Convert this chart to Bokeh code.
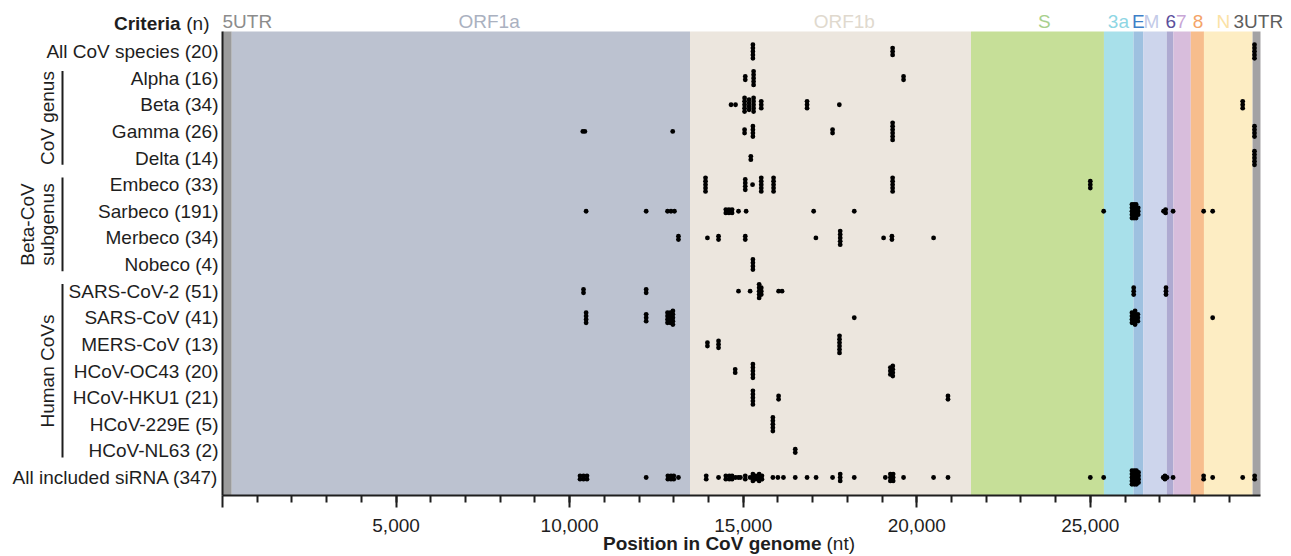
import numpy as np
from bokeh.plotting import figure
from bokeh.models import Range1d, FixedTicker, Label, BoxAnnotation, NumeralTickFormatter
from bokeh.embed import file_html
from bokeh.resources import INLINE

FONT = "Liberation Sans"
FS = "19px"
INK = "#1e1e1e"

# ---------------- data ----------------
row_labels = [
    "All CoV species (20)", "Alpha (16)", "Beta (34)", "Gamma (26)", "Delta (14)",
    "Embeco (33)", "Sarbeco (191)", "Merbeco (34)", "Nobeco (4)",
    "SARS-CoV-2 (51)", "SARS-CoV (41)", "MERS-CoV (13)", "HCoV-OC43 (20)",
    "HCoV-HKU1 (21)", "HCoV-229E (5)", "HCoV-NL63 (2)", "All included siRNA (347)",
]

group_names = [["CoV genus"], ["Beta-CoV", "subgenus"], ["Human CoVs"]]
group_first = [1, 5, 9]
group_last = [4, 8, 15]

region_names = ["5UTR", "ORF1a", "ORF1b", "S", "3a", "E", "M", "6", "7", "8", "N", "3UTR"]
region_starts = [0, 266, 13468, 21563, 25393, 26245, 26523, 27202, 27394, 27894, 28274, 29675]
genome_length = 29903
region_fill = ["#9b9b9b", "#bcc2d0", "#ece6de", "#c6df98", "#a8e0ea", "#9ec1e0",
               "#cdd5ec", "#aeaad1", "#d8bddc", "#f7bd8d", "#fdedc3", "#a3a2a4"]
region_text_color = ["#8c8c8c", "#aab1c0", "#e0d9ce", "#a8d08d", "#8ed6e4", "#3f80c8",
                     "#c3cae8", "#5b4f9c", "#c8a6d6", "#f4a468", "#fbe2a6", "#5e5e5e"]

# siRNA target sites per row: position (nt) and number of siRNAs at that site
site_pos = [
    [15280, 19305, 29730],
    [15060, 15300, 19620],
    [14650, 14780, 15040, 15170, 15300, 15520, 16840, 17770, 29390],
    [10380, 10440, 12970, 15040, 15280, 17575, 19305, 29730],
    [15220, 29730],
    [13915, 15060, 15270, 15520, 15875, 19305, 25000],
    [10475, 12205, 12820, 12920, 13020, 14500, 14590, 14680, 14865, 15085, 17030, 18200,
     25385, 26200, 26260, 26320, 26380, 27110, 27170, 27385, 28265, 28525],
    [13135, 13970, 14290, 15060, 17095, 17795, 19045, 19285, 20485],
    [15280],
    [10400, 12205, 14865, 15200, 15460, 15520, 16020, 16120, 26250, 27180],
    [10475, 12205, 12820, 12900, 12975, 18200, 26200, 26290, 26370, 28525],
    [13970, 14290, 17775],
    [14770, 15280, 19240, 19310],
    [15280, 16020, 20900],
    [15855],
    [16500],
    [10300, 10400, 10500, 12205, 12830, 12920, 13000, 13135, 13935, 14290, 14500, 14600,
     14680, 14780, 14860, 14920, 15060, 15200, 15280, 15360, 15460, 15540, 15855, 16000,
     16160, 16500, 16840, 17100, 17575, 17795, 18200, 19095, 19240, 19320, 19620, 20485,
     20900, 25000, 25385, 26200, 26270, 26330, 26390, 27100, 27150, 27210, 27385, 28265,
     28525, 29390, 29735],
]
site_n = [
    [5, 3, 5],
    [2, 5, 2],
    [1, 1, 5, 4, 5, 3, 3, 1, 3],
    [1, 1, 1, 2, 4, 2, 6, 4],
    [2, 5],
    [5, 4, 1, 5, 5, 5, 3],
    [1, 1, 1, 1, 1, 2, 2, 2, 1, 1, 1, 1, 1, 5, 5, 5, 3, 1, 2, 1, 1, 1],
    [2, 1, 2, 2, 1, 5, 1, 2, 1],
    [4],
    [2, 2, 1, 1, 5, 3, 1, 1, 3, 3],
    [4, 3, 4, 4, 5, 1, 4, 5, 3, 1],
    [2, 3, 6],
    [2, 5, 3, 4],
    [5, 2, 2],
    [5],
    [2],
    [2, 2, 2, 1, 2, 2, 2, 1, 2, 1, 2, 2, 2, 1, 1, 1, 2, 1, 3, 2, 3, 2, 1, 1, 1, 1, 1, 1, 1,
     3, 1, 1, 3, 3, 1, 1, 1, 1, 1, 5, 5, 5, 4, 1, 2, 1, 1, 2, 1, 1, 2],
]

major_ticks = [0, 5000, 10000, 15000, 20000, 25000]
minor_ticks = list(range(1000, 30000, 1000))

# ---------------- layout (canvas pixels) ----------------
W, H = 1291, 556
PLOT_L, PLOT_R = 222, 1260      # genome 0 .. genome_length
ROW0_Y, ROW_STEP = 51, 26.625   # pixel centre of first row, row spacing
PLOT_T, PLOT_B = 31, 495
K = genome_length / (PLOT_R - PLOT_L)
STACK = 0.128                   # vertical spacing of stacked siRNAs (rows)


def px_x(px):
    return (px - PLOT_L) * K


def px_y(py):
    return (py - ROW0_Y) / ROW_STEP


p = figure(width=W, height=H,
           x_range=Range1d(px_x(0), px_x(W)), y_range=Range1d(px_y(H), px_y(0)),
           min_border=0, min_border_left=0, min_border_right=0, min_border_top=0,
           min_border_bottom=0, output_backend="svg", toolbar_location=None,
           background_fill_color="white", border_fill_color="white")
p.outline_line_color = None
p.grid.visible = False

Y_TOP, Y_BOTTOM = px_y(PLOT_T), px_y(PLOT_B)

# genome regions
region_ends = region_starts[1:] + [genome_length]
p.quad(left=region_starts, right=region_ends, bottom=Y_BOTTOM, top=Y_TOP,
       fill_color=region_fill, line_color=None)

# dots
xs, ys = [], []
for r, (pos, cnt) in enumerate(zip(site_pos, site_n)):
    for x, n in zip(pos, cnt):
        for k in range(n):
            xs.append(x)
            ys.append(r + (k - (n - 1) / 2) * STACK)
p.scatter(x=xs, y=ys, size=4.8, fill_color="black", line_color=None)

# axes (drawn at fixed locations inside the canvas)
xa = p.xaxis[0]
xa.fixed_location = Y_BOTTOM
xa.bounds = (0, genome_length)
xa.ticker = FixedTicker(ticks=major_ticks, minor_ticks=minor_ticks)
xa.formatter = NumeralTickFormatter(format="0,0")
xa.major_label_overrides = {0: ""}
xa.axis_line_width = 2
xa.axis_line_color = INK
xa.major_tick_out = 12
xa.major_tick_in = 0
xa.minor_tick_out = 7
xa.minor_tick_in = 0
xa.major_tick_line_width = 2
xa.minor_tick_line_width = 2
xa.major_tick_line_color = INK
xa.minor_tick_line_color = INK
xa.major_label_standoff = 11
xa.major_label_text_font = FONT
xa.major_label_text_font_size = FS
xa.major_label_text_color = INK

ya = p.yaxis[0]
ya.fixed_location = 0
ya.bounds = (Y_BOTTOM, Y_TOP)
ya.ticker = FixedTicker(ticks=list(range(len(row_labels))))
ya.major_label_overrides = {i: t for i, t in enumerate(row_labels)}
ya.axis_line_width = 2
ya.axis_line_color = INK
ya.major_tick_line_color = None
ya.minor_tick_line_color = None
ya.major_tick_out = 0
ya.major_tick_in = 0
ya.minor_tick_out = 0
ya.minor_tick_in = 0
ya.major_label_standoff = 4
ya.major_label_text_font = FONT
ya.major_label_text_font_size = FS
ya.major_label_text_color = INK

# header
p.add_layout(Label(x=px_x(209), y=px_y(23), text="(n)", text_align="right",
                   text_baseline="middle", text_font=FONT, text_font_size=FS,
                   text_color=INK))
p.add_layout(Label(x=px_x(180), y=px_y(23), text="Criteria", text_align="right",
                   text_baseline="middle", text_font=FONT, text_font_size=FS,
                   text_font_style="bold", text_color=INK))

region_label_x = [0, 7680, 17912, 23675, 25810, 26385, 26760, 27320, 27620, 28100, 28830, 29125]
region_label_align = ["left"] + ["center"] * 10 + ["left"]
for name, lx, al, c in zip(region_names, region_label_x, region_label_align, region_text_color):
    p.add_layout(Label(x=lx, y=px_y(21), text=name, text_align=al, text_baseline="middle",
                       text_font=FONT, text_font_size=FS, text_color=c))

# group brackets and labels
group_text_px = [[47], [27, 47], [47]]
for names, a, b, tx in zip(group_names, group_first, group_last, group_text_px):
    p.add_layout(BoxAnnotation(left=px_x(61), right=px_x(63), top=a - 0.27, bottom=b + 0.25,
                               fill_color=INK, fill_alpha=1, line_color=None))
    for nm, x in zip(names, tx):
        p.add_layout(Label(x=px_x(x), y=(a + b) / 2, text=nm, angle=np.pi / 2,
                           text_align="center", text_baseline="middle",
                           text_font=FONT, text_font_size=FS, text_color=INK))

# x axis title
p.add_layout(Label(x=px_x(821), y=px_y(543), text="Position in CoV genome",
                   text_align="right", text_baseline="middle", text_font=FONT,
                   text_font_size=FS, text_font_style="bold", text_color=INK))
p.add_layout(Label(x=px_x(826), y=px_y(543), text="(nt)", text_align="left",
                   text_baseline="middle", text_font=FONT, text_font_size=FS, text_color=INK))

open("out.html", "w").write(file_html(p, INLINE))
